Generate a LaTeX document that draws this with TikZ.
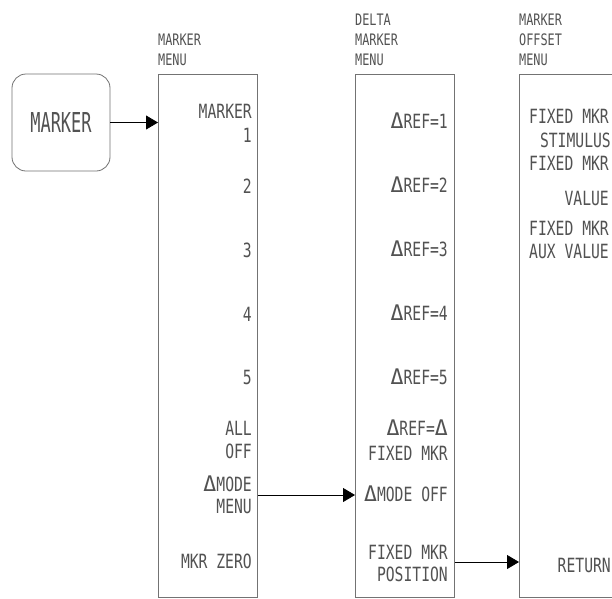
\documentclass[tikz,border=0pt]{standalone}
\usepackage{fontspec}
\usetikzlibrary{arrows.meta}
\newfontfamily\hpmono{DejaVu Sans Mono}[FakeStretch=0.75]
\newfontfamily\hpdelta{DejaVu Sans Mono}[FakeStretch=1.0]
\newfontfamily\hpkey{DejaVu Sans Mono}[FakeStretch=0.62]
\newcommand\itemfont{\hpmono\fontsize{19.6}{24}\selectfont}
\newcommand\titlefont{\hpmono\fontsize{15.8}{20}\selectfont}
\newcommand\keyfont{\hpkey\fontsize{27.4}{32}\selectfont}
\newcommand\dlt{{\hpdelta\fontsize{21.5}{24}\selectfont Δ}}
\tikzset{
  menubox/.style={draw=black!55, line width=0.8pt, inner sep=0pt, anchor=north west},
  keybox/.style={draw=black!55, line width=0.8pt, rounded corners=14pt, inner sep=0pt,
    minimum width=98pt, minimum height=97pt, font=\keyfont, text=black!68},
  item/.style={font=\itemfont, text=black!68, inner sep=0pt, anchor=base east},
  title/.style={font=\titlefont, text=black!68, inner sep=0pt, anchor=base west},
  link/.style={-{Triangle[length=12pt,width=14pt]}, line width=0.8pt, black},
}
\begin{document}
\begin{tikzpicture}[x=1pt,y=-1pt]
\useasboundingbox (0,0) rectangle (612,598);
\clip (0,0) rectangle (612,598);
\fill[white] (0,0) rectangle (612,598);

% hardkey
\node[keybox] (key) at (61,122.5) {MARKER};

% menu boxes
\node[menubox, minimum width=99pt, minimum height=523pt] (b1) at (158,74) {};
\node[menubox, minimum width=99pt, minimum height=523pt] (b2) at (355,74) {};
\node[menubox, minimum width=140pt, minimum height=523pt] (b3) at (519,74) {};

% titles
\node[title] (t1a) at (158,45) {MARKER};
\node[title] (t1b) at (158,65) {MENU};
\node[title] (t2a) at (355,25) {DELTA};
\node[title] (t2b) at (355,45) {MARKER};
\node[title] (t2c) at (355,65) {MENU};
\node[title] (t3a) at (519,25) {MARKER};
\node[title] (t3b) at (519,45) {OFFSET};
\node[title] (t3c) at (519,65) {MENU};

% marker menu
\node[item] (m1a) at (252,118) {MARKER};
\node[item] (m1b) at (252,142) {1};
\node[item] (m2) at (252,193) {2};
\node[item] (m3) at (252,257) {3};
\node[item] (m4) at (252,321) {4};
\node[item] (m5) at (252,384) {5};
\node[item] (mAa) at (252,435) {ALL};
\node[item] (mAb) at (252,458) {OFF};
\node[item] (mDa) at (252,491) {\dlt MODE};
\node[item] (mDb) at (252,513) {MENU};
\node[item] (mZ) at (252,568) {MKR ZERO};

% delta marker menu
\node[item] (d1) at (448,128) {\dlt REF=1};
\node[item] (d2) at (448,192) {\dlt REF=2};
\node[item] (d3) at (448,256) {\dlt REF=3};
\node[item] (d4) at (448,320) {\dlt REF=4};
\node[item] (d5) at (448,384) {\dlt REF=5};
\node[item] (dFa) at (448,435) {\dlt REF=\dlt};
\node[item] (dFb) at (448,460) {FIXED MKR};
\node[item] (dO) at (448,501) {\dlt MODE OFF};
\node[item] (dPa) at (448,559) {FIXED MKR};
\node[item] (dPb) at (448,581) {POSITION};

% marker offset menu
\node[item] (o1a) at (609,123) {FIXED MKR};
\node[item] (o1b) at (611,147) {STIMULUS};
\node[item] (o2a) at (609,170) {FIXED MKR};
\node[item] (o2b) at (609,205) {VALUE};
\node[item] (o3a) at (609,235) {FIXED MKR};
\node[item] (o3b) at (609,258) {AUX VALUE};
\node[item] (oR) at (611,572) {RETURN};

% connectors
\coordinate (y2) at (0,495);
\coordinate (y3) at (0,562);
\draw[link] (key.east) -- (key.east -| b1.west);
\draw[link] (b1.east |- y2) -- (b2.west |- y2);
\draw[link] (b2.east |- y3) -- (b3.west |- y3);
\end{tikzpicture}
\end{document}
